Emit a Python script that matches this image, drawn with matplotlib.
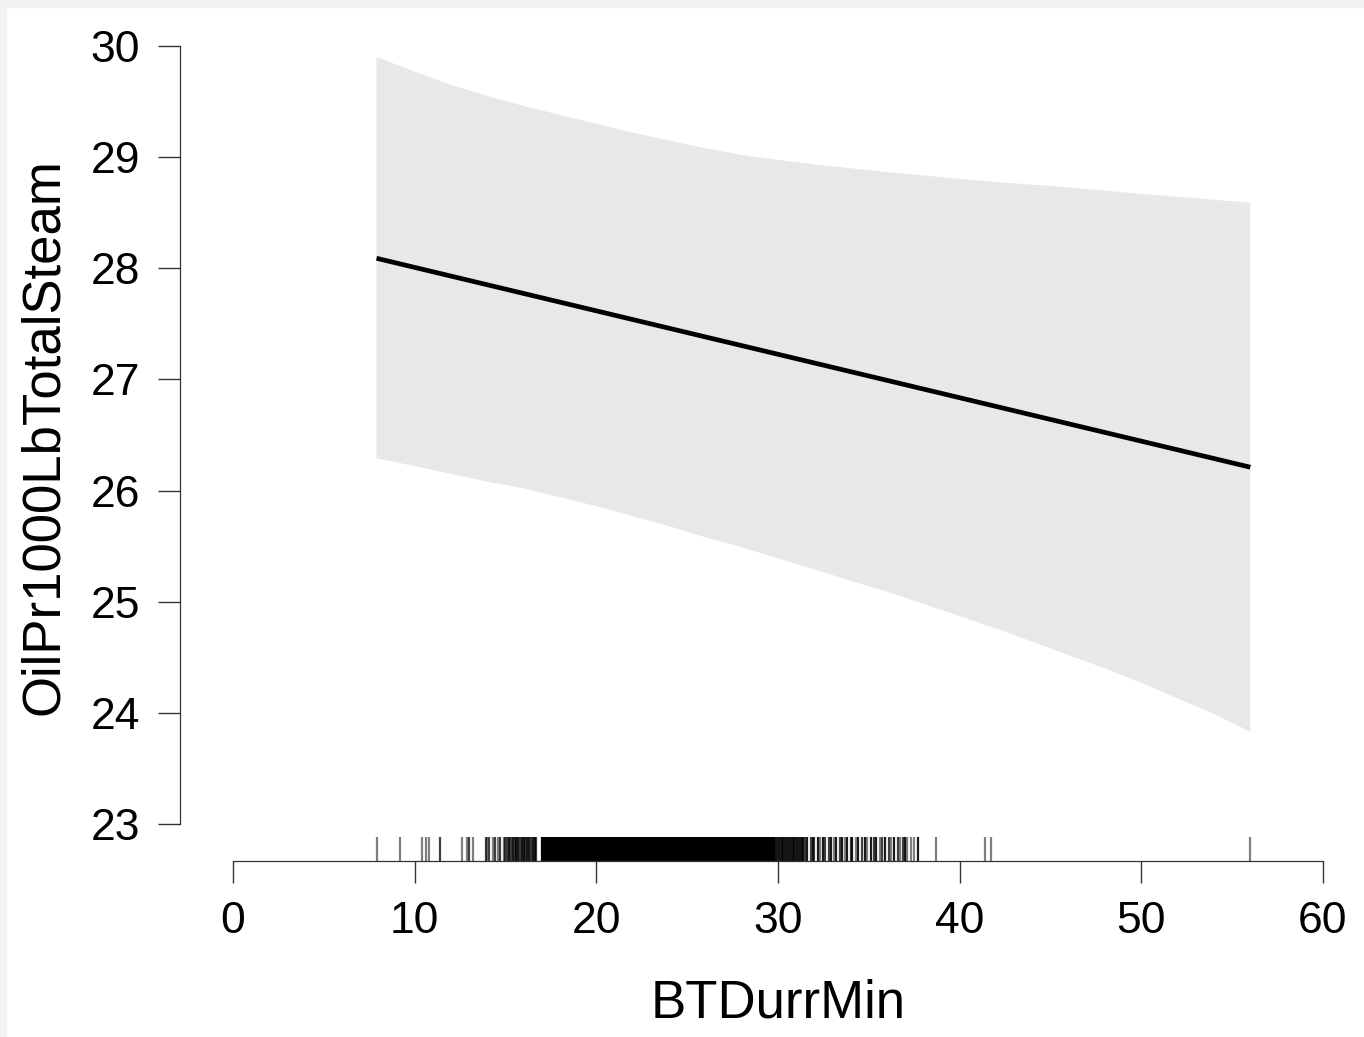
import matplotlib
matplotlib.use("Agg")
import matplotlib.pyplot as plt
from matplotlib.patches import Rectangle

plt.rcParams['font.family'] = ['Liberation Sans', 'DejaVu Sans']

# fitted line
fit_x = [7.9, 56.0]
fit_y = [28.09, 26.21]

# confidence band
hi_x = [7.9, 10, 12, 14, 16, 18, 20, 22, 24, 26, 28, 30, 32, 34, 36, 38, 41.7, 45, 50, 56]
hi_y = [29.90, 29.77, 29.65, 29.55, 29.46, 29.38, 29.30, 29.22, 29.15, 29.08,
        29.02, 28.975, 28.935, 28.90, 28.865, 28.835, 28.78, 28.74, 28.67, 28.59]
lo_x = [7.9, 10, 12, 14, 16, 18, 20, 22, 24, 26, 28, 30, 32, 34, 36, 38,
        40, 42, 44, 46, 48, 50, 52, 54, 56]
lo_y = [26.29, 26.22, 26.15, 26.08, 26.02, 25.94, 25.86, 25.77, 25.68, 25.58,
        25.49, 25.39, 25.29, 25.19, 25.09, 24.98, 24.87, 24.76, 24.64, 24.52,
        24.40, 24.27, 24.13, 23.99, 23.83]

# rug of observed BTDurrMin values, grouped by how many observations share a value
rug_n1 = [7.9, 9.2, 10.4, 10.6, 10.8, 12.6, 12.9, 13.2, 14.0, 14.3, 14.6, 14.9,
          32.3, 33.1, 33.7, 34.3, 34.9, 35.6, 36.2, 36.7, 37.1, 37.3, 37.5,
          38.7, 41.4, 41.7, 56.0]
rug_n2 = [11.4, 13.0, 13.9, 14.1, 14.4, 14.7, 15.0, 15.1, 15.3, 15.5, 15.8, 16.1,
          16.4, 16.7, 31.5, 31.8, 32.0, 32.6, 32.8, 33.4, 34.0, 34.6, 35.3, 35.7,
          36.1, 36.6, 36.9]
rug_n3 = [15.2, 15.4, 15.6, 15.7, 15.9, 16.0, 16.2, 16.3, 16.5, 16.6,
          29.9, 30.0, 30.1, 30.2, 30.3, 30.4, 30.5, 30.6, 30.7, 30.8, 30.9,
          31.0, 31.1, 31.2, 31.3, 31.4,
          31.6, 31.9, 32.2, 32.5, 32.9, 33.2, 33.5, 33.8, 34.1, 34.4, 34.8, 35.1,
          35.4, 35.9, 36.4, 37.0, 37.7]
rug_n4 = [17.0, 17.1, 17.2, 17.3, 17.4, 17.5, 17.6, 17.7, 17.8, 17.9,
          18.0, 18.1, 18.2, 18.3, 18.4, 18.5, 18.6, 18.7, 18.8, 18.9,
          19.0, 19.1, 19.2, 19.3, 19.4, 19.5, 19.6, 19.7, 19.8, 19.9,
          20.0, 20.1, 20.2, 20.3, 20.4, 20.5, 20.6, 20.7, 20.8, 20.9,
          21.0, 21.1, 21.2, 21.3, 21.4, 21.5, 21.6, 21.7, 21.8, 21.9,
          22.0, 22.1, 22.2, 22.3, 22.4, 22.5, 22.6, 22.7, 22.8, 22.9,
          23.0, 23.1, 23.2, 23.3, 23.4, 23.5, 23.6, 23.7, 23.8, 23.9,
          24.0, 24.1, 24.2, 24.3, 24.4, 24.5, 24.6, 24.7, 24.8, 24.9,
          25.0, 25.1, 25.2, 25.3, 25.4, 25.5, 25.6, 25.7, 25.8, 25.9,
          26.0, 26.1, 26.2, 26.3, 26.4, 26.5, 26.6, 26.7, 26.8, 26.9,
          27.0, 27.1, 27.2, 27.3, 27.4, 27.5, 27.6, 27.7, 27.8, 27.9,
          28.0, 28.1, 28.2, 28.3, 28.4, 28.5, 28.6, 28.7, 28.8, 28.9,
          29.0, 29.1, 29.2, 29.3, 29.4, 29.5, 29.6, 29.7, 29.8]

x_ticks = [0, 10, 20, 30, 40, 50, 60]
y_ticks = [23, 24, 25, 26, 27, 28, 29, 30]

W, H = 1364, 1037
fig = plt.figure(figsize=(W / 100, H / 100), dpi=100)
fig.patch.set_facecolor('white')
# faint grey frame on the left and top edges
fig.patches.append(Rectangle((0, 0), 6 / W, 1, transform=fig.transFigure, color='#f2f2f2', zorder=-1))
fig.patches.append(Rectangle((0, 1 - 7 / H), 1, 7 / H, transform=fig.transFigure, color='#f2f2f2', zorder=-1))

ax = fig.add_axes([180 / W, 1 - 861 / H, (1323 - 180) / W, (861 - 46) / H])
ax.set_xlim(-2.917, 60)
ax.set_ylim(22.667, 30)

# band polygon: upper edge left to right, lower edge back
poly_x = hi_x + lo_x[::-1]
poly_y = hi_y + lo_y[::-1]
ax.fill(poly_x, poly_y, color='#e8e8e8', lw=0, zorder=1)
ax.plot(fit_x, fit_y, color='black', lw=3.4, solid_capstyle='butt', zorder=3)

for vals, a in [(rug_n1, 0.5), (rug_n2, 0.75), (rug_n3, 0.9), (rug_n4, 1.0)]:
    ax.vlines(vals, 0, 0.030, transform=ax.get_xaxis_transform(),
              colors=[(0, 0, 0, a)], lw=1.6, zorder=2)

for s in ['top', 'right']:
    ax.spines[s].set_visible(False)
ax.spines['left'].set_bounds(23, 30)
ax.spines['bottom'].set_bounds(0, 60)
for s in ['left', 'bottom']:
    ax.spines[s].set_linewidth(0.9)
    ax.spines[s].set_color('#333333')

ax.set_xticks(x_ticks)
ax.set_yticks(y_ticks)
ax.tick_params(direction='out', length=15.8, width=1.0, color='#333333',
               labelsize=32, pad=13)

fig.text(44 / W, 1 - 437 / H, 'OilPr1000LbTotalSteam', rotation=90,
         ha='center', va='center', fontsize=38)
fig.text(778 / W, 1 - 1017 / H, 'BTDurrMin', ha='center', va='baseline', fontsize=38)

fig.savefig('out.png', dpi=100)
